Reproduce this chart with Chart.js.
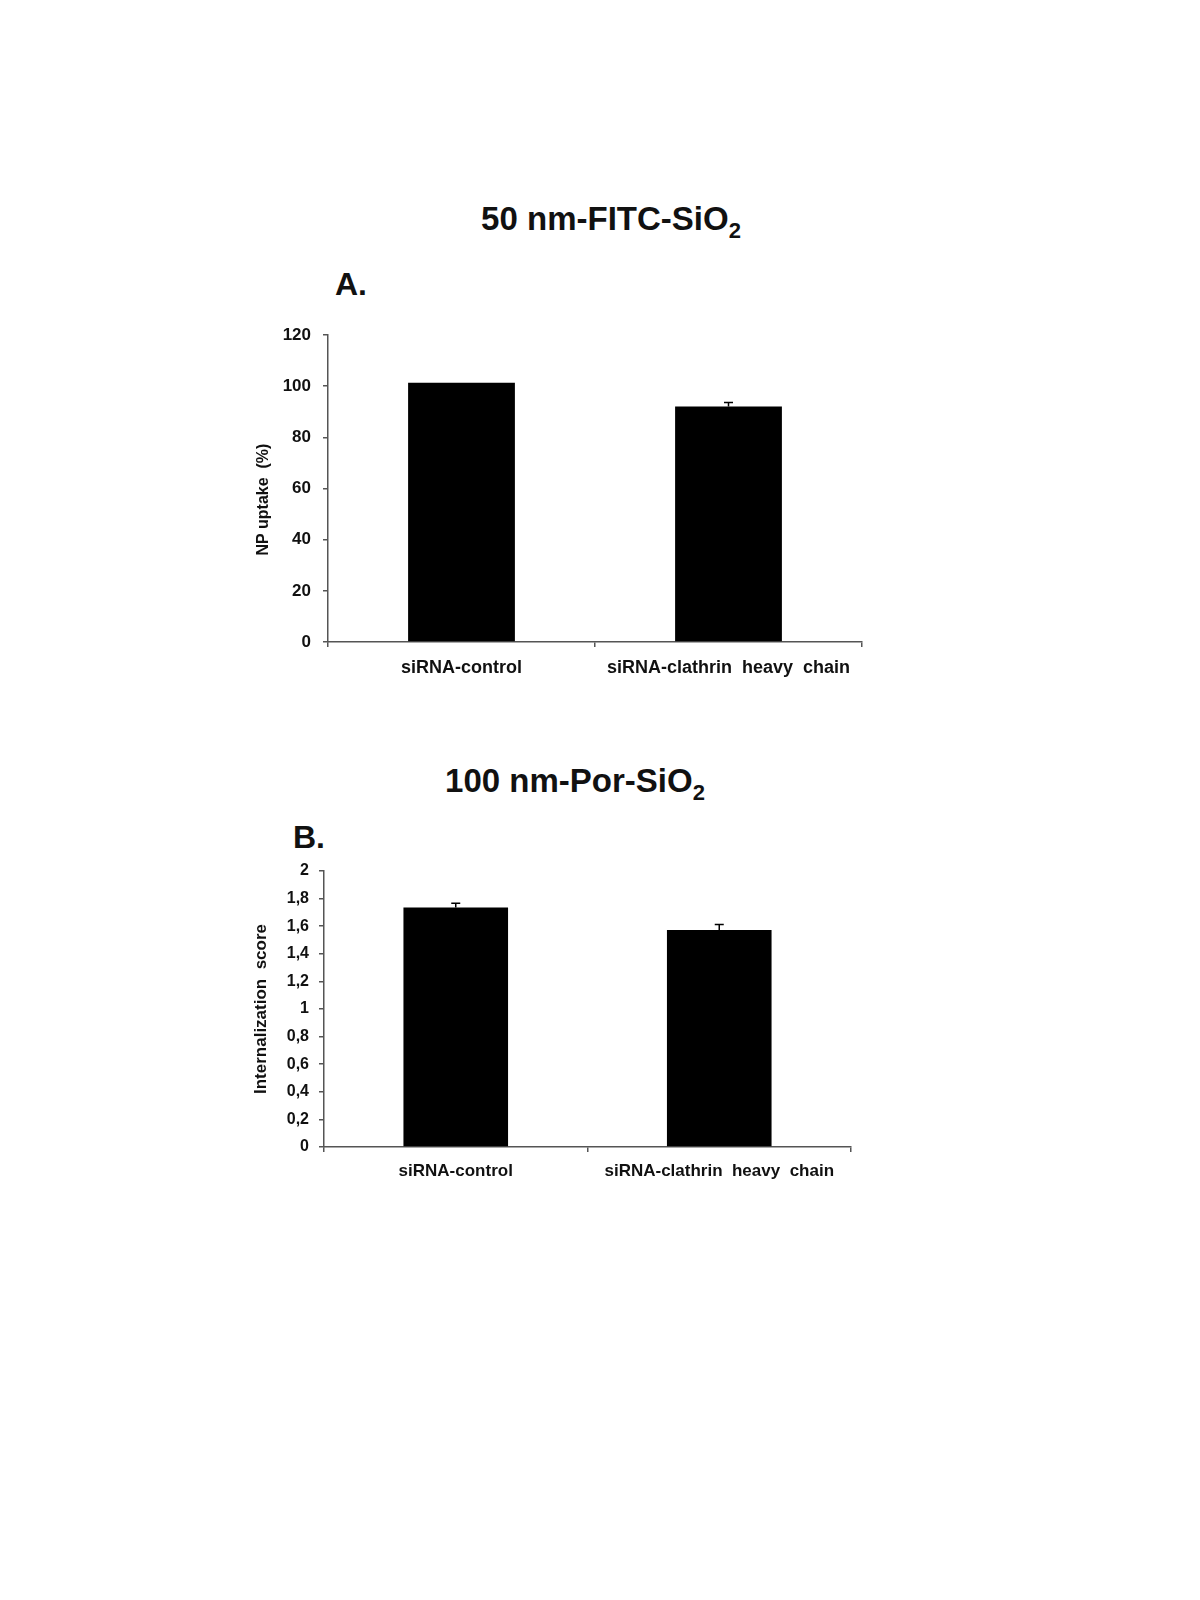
<!DOCTYPE html>
<html>
<head>
<meta charset="utf-8">
<script src="https://cdn.jsdelivr.net/npm/chart.js@4.4.1/dist/chart.umd.min.js"></script>
<style>
    body { margin: 0; background: #fff; font-family: "Liberation Sans", Arial, sans-serif; }
    #page { position: relative; width: 1200px; height: 1600px; }
    .title { position: absolute; transform: translateX(-50%); font-weight: bold; font-size: 33px; color: #111; white-space: nowrap; line-height: 1; }
    .title sub { font-size: 22px; vertical-align: -8px; line-height: 0; }
    .letter { position: absolute; font-weight: bold; font-size: 32px; color: #111; line-height: 1; }
    canvas { position: absolute; }
</style>
</head>
<body>
<div id="page">
    <div class="title" style="left:611px; top:202px;">50 nm-FITC-SiO<sub>2</sub></div>
    <div class="letter" style="left:335px; top:268px;">A.</div>
    <div style="position:absolute; left:230px; top:300px; width:650px; height:400px;">
        <canvas id="chartA" width="650" height="400"></canvas>
    </div>

    <div class="title" style="left:575px; top:764px;">100 nm-Por-SiO<sub>2</sub></div>
    <div class="letter" style="left:293px; top:821px;">B.</div>
    <div style="position:absolute; left:230px; top:840px; width:640px; height:360px;">
        <canvas id="chartB" width="640" height="360"></canvas>
    </div>
</div>
<script>
"use strict";

let categories = ['siRNA-control', 'siRNA-clathrin  heavy  chain'];

let uptakeValues = [101.3, 92.1];
let uptakeErrors = [0, 1.5];
let uptakeTicks = ['0', '20', '40', '60', '80', '100', '120'];

let scoreValues = [1.735, 1.573];
let scoreErrors = [0.031, 0.039];
let scoreTicks = ['0', '0,2', '0,4', '0,6', '0,8', '1', '1,2', '1,4', '1,6', '1,8', '2'];

let axisColor = '#555';
let fontName = "'Liberation Sans', Arial, sans-serif";

// little error bars on top of each bar, cap and stem
let errorBars = {
    id: 'errorBars',
    afterDatasetsDraw(chart) {
        let ctx = chart.ctx;
        let dataset = chart.data.datasets[0];
        let meta = chart.getDatasetMeta(0);
        let yScale = chart.scales.y;
        ctx.save();
        ctx.strokeStyle = '#000';
        ctx.lineWidth = 1.5;
        meta.data.forEach(function (bar, i) {
            let err = dataset.errors[i];
            if (!err) return;
            let yTop = yScale.getPixelForValue(dataset.data[i] + err);
            let yBase = yScale.getPixelForValue(dataset.data[i]);
            ctx.beginPath();
            ctx.moveTo(bar.x, yBase);
            ctx.lineTo(bar.x, yTop);
            ctx.moveTo(bar.x - 4.5, yTop);
            ctx.lineTo(bar.x + 4.5, yTop);
            ctx.stroke();
        });
        ctx.restore();
    }
};

function makeChart(canvasId, values, errors, tickLabels, opts) {
    let ctx = document.getElementById(canvasId).getContext('2d');
    return new Chart(ctx, {
        type: 'bar',
        data: {
            labels: categories,
            datasets: [{
                data: values,
                errors: errors,
                backgroundColor: '#000',
                borderWidth: 0,
                categoryPercentage: 1,
                barPercentage: opts.barPct
            }]
        },
        options: {
            responsive: false,
            animation: false,
            events: [],
            layout: { padding: { top: opts.padTop, right: opts.padRight, left: 0, bottom: 0 } },
            plugins: { legend: { display: false }, tooltip: { enabled: false } },
            scales: {
                x: {
                    grid: { offset: true, drawOnChartArea: false, tickLength: 5, color: axisColor, lineWidth: 1.5 },
                    border: { color: axisColor, width: 1.5 },
                    ticks: {
                        color: '#111',
                        padding: opts.xPad,
                        maxRotation: 0,
                        autoSkip: false,
                        font: { family: fontName, size: opts.xFont, weight: 'bold' }
                    },
                    afterFit(axis) { axis.height = opts.xHeight; }
                },
                y: {
                    min: 0,
                    max: opts.max,
                    grid: { drawOnChartArea: false, tickLength: 5, color: axisColor, lineWidth: 1.5 },
                    border: { color: axisColor, width: 1.5 },
                    ticks: {
                        stepSize: opts.step,
                        color: '#111',
                        padding: opts.yPad,
                        font: { family: fontName, size: opts.yFont, weight: 'bold' },
                        callback: function (value, index) { return tickLabels[index]; }
                    },
                    title: {
                        display: true,
                        text: opts.yTitle,
                        color: '#111',
                        padding: { top: opts.titlePad, bottom: 0 },
                        font: { family: fontName, size: opts.titleFont, weight: 'bold' }
                    },
                    afterFit(axis) { axis.width = opts.yWidth; }
                }
            }
        },
        plugins: [errorBars]
    });
}

makeChart('chartA', uptakeValues, uptakeErrors, uptakeTicks, {
    max: 120, step: 20, barPct: 0.4,
    padTop: 35, padRight: 18, yWidth: 98, xHeight: 58,
    xPad: 10, xFont: 18, yPad: 12, yFont: 17,
    yTitle: 'NP uptake  (%)\u00a0\u00a0\u00a0\u00a0\u00a0', titleFont: 16, titlePad: 24
});

makeChart('chartB', scoreValues, scoreErrors, scoreTicks, {
    max: 2, step: 0.2, barPct: 0.397,
    padTop: 31, padRight: 19, yWidth: 94, xHeight: 53,
    xPad: 9, xFont: 17, yPad: 10, yFont: 16,
    yTitle: 'Internalization  score', titleFont: 17, titlePad: 21
});
</script>
</body>
</html>
